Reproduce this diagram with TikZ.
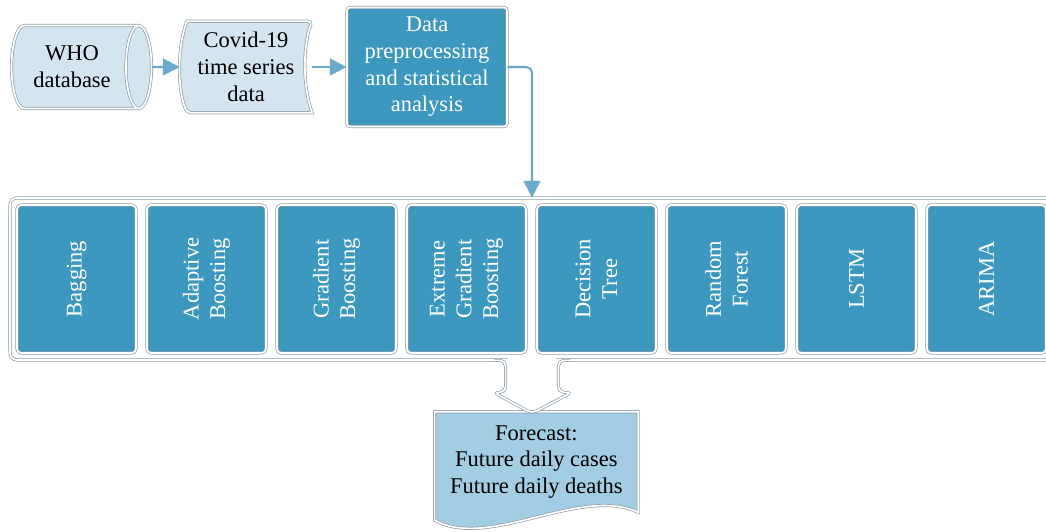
\documentclass[tikz,border=0pt]{standalone}
\usepackage{fontspec}
\setmainfont{Liberation Serif}
\usetikzlibrary{positioning, arrows.meta, shapes.geometric, backgrounds}
\definecolor{paleblue}{HTML}{D5E5EF}
\definecolor{deepblue}{HTML}{3D98C0}
\definecolor{skyblue}{HTML}{A3CDE3}
\definecolor{rimgray}{HTML}{8E9FAB}
\definecolor{flowblue}{HTML}{6AAACB}

\begin{document}
\begin{tikzpicture}[node distance=1cm, on grid, font=\fontsize{16}{19}\selectfont]
      \tikzstyle{rim}=[draw=rimgray, line width=0.5pt, double=white, double distance=1.2pt]
      \tikzstyle{model}=[rim, fill=deepblue, text=white, rounded corners=3pt, align=center,
                         minimum width=3.7cm, minimum height=2.975cm, rotate=90]
      \tikzstyle{flow}=[draw=flowblue, line width=1.5pt, -{Triangle[width=12pt, length=12pt]}]

      \useasboundingbox (0,0) rectangle (26.15,13.275);

      % Nodes
      \node[cylinder, rim, fill=paleblue, aspect=0.5, align=center,
            minimum width=2.075cm, minimum height=3.5cm] (who) at (1.8,11.6) {WHO\\database};
      \node[align=center, minimum width=3.3cm, minimum height=2.275cm] (covid) [right=4.35cm of who] {Covid-19\\time series\\data};
      \node[rim, fill=deepblue, text=white, rounded corners=2pt, align=center,
            minimum width=4cm, minimum height=2.975cm] (data) [right=4.525cm of covid] {Data\\preprocessing\\and statistical\\analysis};

      \node[rim, fill=white, rounded corners=5pt, minimum width=26.1cm, minimum height=4.05cm] (cont) at (13.3,6.3) {};
      \node[model]                  (bag) at (1.9125,6.3) {Bagging};
      \node[model, right=3.25cm of bag]  (ada)  {Adaptive\\Boosting};
      \node[model, right=3.25cm of ada]  (grad) {Gradient\\Boosting};
      \node[model, right=3.25cm of grad] (xgb)  {Extreme\\Gradient\\Boosting};
      \node[model, right=3.25cm of xgb]  (dt)   {Decision\\Tree};
      \node[model, right=3.25cm of dt]   (rf)   {Random\\Forest};
      \node[model, right=3.25cm of rf]   (lstm) {LSTM};
      \node[model, right=3.25cm of lstm] (arima) {ARIMA};

      \node[align=center, minimum width=5.075cm, minimum height=2.5cm] (fc) at (13.41,1.725) {Forecast:\\Future daily cases\\Future daily deaths};

      % Shapes behind the texts
      \begin{pgfonlayer}{background}
        \draw[rim, fill=paleblue, rounded corners=3pt] ([xshift=0.18cm]covid.north west) -- (covid.north east)
          [sharp corners] .. controls ([xshift=-0.24cm, yshift=-0.6cm]covid.north east)
          and ([xshift=-0.24cm, yshift=0.6cm]covid.south east) .. (covid.south east)
          [rounded corners=3pt] -- ([xshift=0.18cm]covid.south west)
          [sharp corners] .. controls ([xshift=-0.06cm, yshift=0.6cm]covid.south west)
          and ([xshift=-0.06cm, yshift=-0.6cm]covid.north west) .. cycle;
        \draw[rim, fill=skyblue] (fc.south west) -- (fc.north west) -- (fc.north east) -- (fc.south east)
          .. controls ([xshift=-1.45cm, yshift=0.675cm]fc.south east)
          and ([xshift=1.375cm, yshift=-0.95cm]fc.south west) .. ([yshift=-0.2cm]fc.south west) -- cycle;
      \end{pgfonlayer}

      % Block arrow
      \draw[rim, fill=white, rounded corners=4pt] ([xshift=-0.95cm]cont.south) -- ([xshift=-0.66cm]cont.south)
        -- ++(0,-0.8) -- ++(-0.3,0) -- ([yshift=-1.325cm]cont.south) -- ([xshift=1.0cm, yshift=-0.8cm]cont.south)
        -- ++(-0.34,0) -- ([xshift=0.66cm]cont.south) -- ([xshift=0.95cm]cont.south);
      \fill[white] ([xshift=-0.6cm, yshift=0.07cm]cont.south) rectangle ([xshift=0.6cm, yshift=-0.3cm]cont.south);

      % Edges
      \draw[flow] (who.east) -- (covid.west);
      \draw[flow] (covid.east) -- (data.west);
      \draw[flow, rounded corners=4pt] (data.east) -| (cont.north);
    \end{tikzpicture}
\end{document}
